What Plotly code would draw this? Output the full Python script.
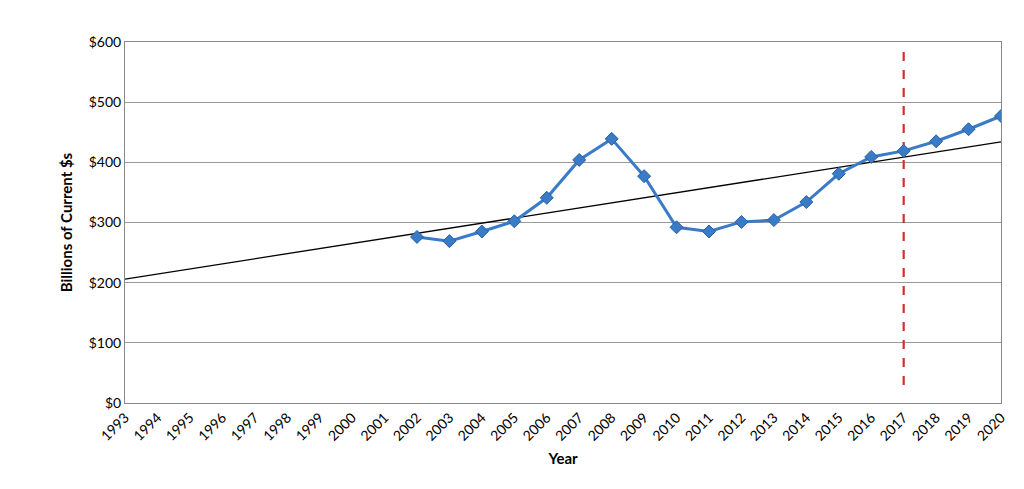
import plotly.graph_objects as go

years = list(range(1993, 2021))
data_years = list(range(2002, 2021))
values = [276, 269, 285, 302, 341, 404, 439, 377, 292, 285, 301, 304, 334, 381, 409, 419, 435, 455, 477]
trend_years = [1993, 2020]
trend_values = [206, 434]
marker_year = 2017
marker_range = [30, 597]

fig = go.Figure()
fig.add_trace(go.Scatter(x=trend_years, y=trend_values, mode="lines",
                         line=dict(color="black", width=1.3), hoverinfo="skip"))
fig.add_trace(go.Scatter(x=[marker_year, marker_year], y=marker_range, mode="lines",
                         line=dict(color="#d0312d", width=2.2, dash="dash"), hoverinfo="skip"))
fig.add_trace(go.Scatter(x=data_years, y=values, mode="lines+markers",
                         line=dict(color="#3a7bc8", width=3),
                         marker=dict(symbol="diamond", size=10, color="#3a7bc8",
                                     line=dict(color="#2a5f9e", width=1))))

fig.update_xaxes(range=[1993, 2020], tickvals=years, ticktext=[str(y) for y in years],
                 tickangle=-45, showgrid=False, showline=True, linecolor="#888",
                 mirror=True, ticks="", automargin=False,
                 title=dict(text="<b>Year</b>", font=dict(size=15), standoff=10),
                 tickfont=dict(size=14, color="black"))
fig.update_yaxes(range=[0, 600], dtick=100, tickprefix="$", showgrid=True, gridcolor="#999",
                 gridwidth=1, showline=True, linecolor="#888", mirror=True, zeroline=False,
                 automargin=False,
                 title=dict(text="<b>Billions of Current $s</b>", font=dict(size=15), standoff=12),
                 tickfont=dict(size=14, color="black"))
fig.update_layout(width=1024, height=489, showlegend=False,
                  plot_bgcolor="white", paper_bgcolor="white",
                  font=dict(family="Lato", color="black"),
                  margin=dict(l=117, r=31, t=34, b=94))
fig.write_html("out.html")
